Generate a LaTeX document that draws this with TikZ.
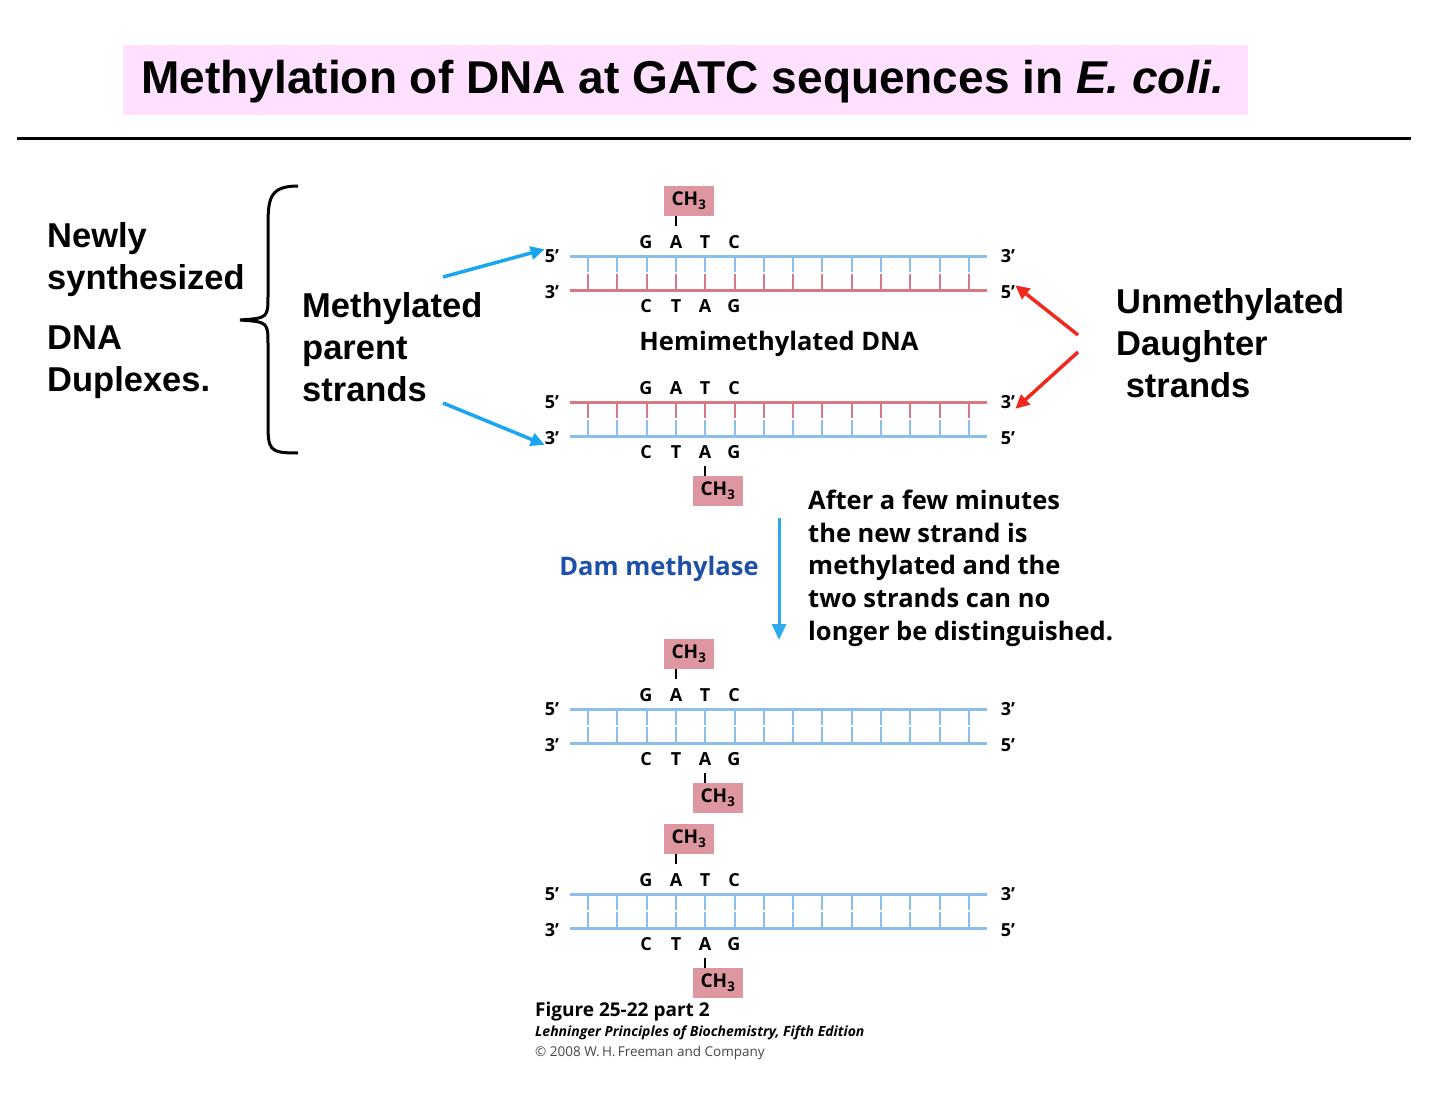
\documentclass[tikz,border=0pt]{standalone}
\usepackage{fontspec}
\setmainfont{Liberation Sans}
\newfontfamily\dnafont{Open Sans}
\usetikzlibrary{arrows.meta}
\definecolor{sblue}{RGB}{140,190,235}
\definecolor{sred}{RGB}{215,120,130}
\definecolor{chbox}{RGB}{222,150,160}
\definecolor{titlebg}{RGB}{255,225,255}
\definecolor{damblue}{RGB}{30,80,170}
\definecolor{arblue}{RGB}{25,165,240}
\definecolor{arred}{RGB}{240,40,30}
\definecolor{dgrey}{RGB}{70,70,70}
\tikzset{
  lab/.style={font=\fontsize{34.5}{42}\selectfont\bfseries, align=left, anchor=north west, inner sep=0},
  dna/.style={font=\dnafont\fontsize{18}{20}\selectfont\bfseries, inner sep=0},
  small/.style={font=\dnafont\fontsize{25.5}{32.6}\selectfont\bfseries, align=left, inner sep=0},
  ch/.style={fill=chbox, minimum width=50pt, minimum height=30pt, inner sep=0, font=\dnafont\fontsize{19}{20}\selectfont\bfseries},
  bar/.style={line width=3.5pt, -{Triangle[length=14pt,width=13pt]}},
}
\newcommand{\duplex}[6]{%
  \draw[#2, line width=3pt] (570,#1) -- (987,#1);
  \draw[#3, line width=3pt] (570,#1+34) -- (987,#1+34);
  \foreach \i in {0,...,13} {
    \draw[#2, line width=2pt] (588+29.3*\i,#1) -- (588+29.3*\i,#1+16);
    \draw[#3, line width=2pt] (588+29.3*\i,#1+18) -- (588+29.3*\i,#1+34);
  }
  \node[dna] (#6tf) at (552,#1) {5’};
  \node[dna] (#6bt) at (552,#1+36) {3’};
  \node[dna] (#6tt) at (1008,#1) {3’};
  \node[dna] (#6bf) at (1008,#1+36) {5’};
  \node[dna] at (646,#1-14) {G};
  \node[dna] at (676,#1-14) {A};
  \node[dna] at (705,#1-14) {T};
  \node[dna] at (734,#1-14) {C};
  \node[dna] at (646,#1+50) {C};
  \node[dna] at (676,#1+50) {T};
  \node[dna] at (705,#1+50) {A};
  \node[dna] at (734,#1+50) {G};
  \ifnum#4=1
    \node[ch] (#6ct) at (689,#1-55) {CH\textsubscript{3}};
    \draw[line width=1.2pt] (676,#1-40) -- (676,#1-30);
  \fi
  \ifnum#5=1
    \node[ch] (#6cb) at (718,#1+89) {CH\textsubscript{3}};
    \draw[line width=1.2pt] (705,#1+64) -- (705,#1+74);
  \fi
}
\begin{document}
\begin{tikzpicture}[x=1pt,y=-1pt]
\useasboundingbox (0,0) rectangle (1440,1097);
\fill[white] (0,0) rectangle (1440,1097);
\fill[titlebg] (123,45) rectangle (1248,115);
\node[font=\fontsize{46}{50}\selectfont\bfseries, inner sep=0] (title) at (683,82) {Methylation of DNA at GATC sequences in \textit{E. coli.}};
\draw[line width=3pt] (17,139) -- (1411,139);

\duplex{256}{sblue}{sred}{1}{0}{a}
\duplex{402}{sred}{sblue}{0}{1}{b}
\duplex{709}{sblue}{sblue}{1}{1}{c}
\duplex{894}{sblue}{sblue}{1}{1}{d}

\node[dna, font=\dnafont\fontsize{25.5}{28}\selectfont\bfseries] (hemi) at (779,344) {Hemimethylated DNA};

\node[lab] (newly) at (47,222) {Newly\\synthesized};
\node[lab] (dnalab) at (47,326) {DNA\\Duplexes.};
\draw[line width=3pt] (298,186) .. controls (268,186) and (268,200) .. (268,230) -- (268,295) .. controls (268,318) .. (240,320) .. controls (268,322) .. (268,345) -- (268,420) .. controls (268,450) and (268,453) .. (298,453);

\node[lab] (meth) at (302,292) {Methylated\\parent\\strands};
\node[lab] (unmeth) at (1116,288) {Unmethylated\\Daughter\\\ strands};

\coordinate (m1) at (443,277);
\coordinate (m2) at (443,403);
\coordinate (u1) at (1078,335);
\coordinate (u2) at (1078,352);
\draw[bar, arblue] (m1) -- (atf.north west);
\draw[bar, arblue] (m2) -- (bbt.south west);
\draw[bar, arred] (u1) -- (abf.north east);
\draw[bar, arred] (u2) -- (btt.south east);

\coordinate (d1) at (779,518);
\coordinate (d2) at (779,640);
\draw[line width=3pt, arblue!80!sblue, -{Triangle[length=16pt,width=14pt]}] (d1) -- (d2);
\node[small, damblue, anchor=center] (dam) at (659,569) {Dam methylase};
\node[small, anchor=north west] (after) at (808,490) {After a few minutes\\the new strand is\\methylated and the\\two strands can no\\longer be distinguished.};

\node[font=\dnafont\fontsize{19}{20}\selectfont\bfseries, anchor=west, inner sep=0] (fig) at (535,1012) {Figure 25-22 part 2};
\node[font=\dnafont\fontsize{14}{14}\selectfont\bfseries\itshape, anchor=west, inner sep=0] (leh) at (535,1033) {Lehninger Principles of Biochemistry, Fifth Edition};
\node[font=\dnafont\fontsize{13.5}{14}\selectfont, text=dgrey, anchor=west, inner sep=0] (copy) at (535,1053) {\textcopyright\ 2008 W.\,H.\,Freeman and Company};
\end{tikzpicture}
\end{document}
